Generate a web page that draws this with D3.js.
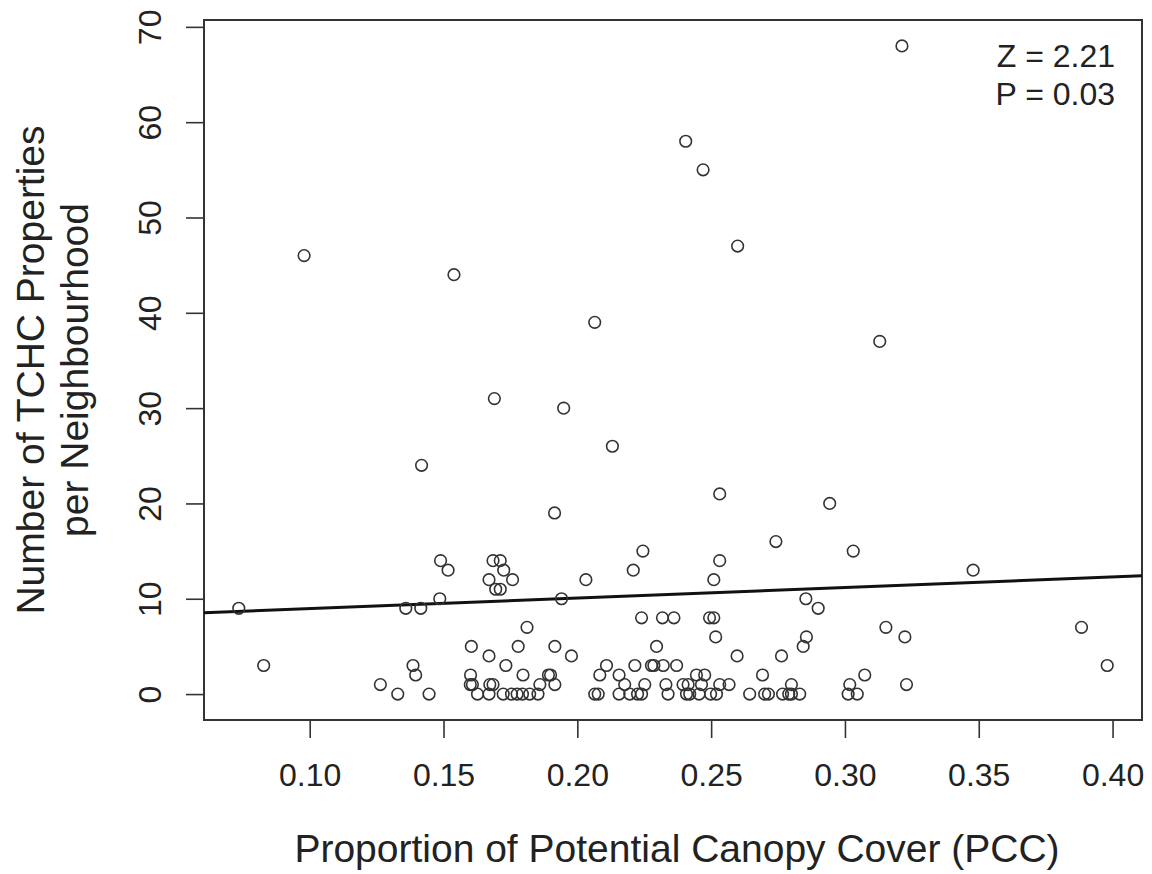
<!DOCTYPE html>
<html>
<head>
<meta charset="utf-8">
<script src="https://cdn.jsdelivr.net/npm/d3@7"></script>
<style>
  body { margin: 0; background: #fff; }
  svg text { font-family: "Liberation Sans", Arial, sans-serif; fill: #222; }
</style>
</head>
<body>
<div id="chart"></div>
<script>
// proportion of potential canopy cover, one entry per neighbourhood
const pcc = [
  0.3213, 0.2405, 0.2470, 0.2599, 0.0979, 0.1539, 0.2065, 0.3130, 0.1690, 0.1949,
  0.2131, 0.1418, 0.2532, 0.2943, 0.1915, 0.2742, 0.2245, 0.3031, 0.1489, 0.1685,
  0.1712, 0.2532, 0.2209, 0.3479, 0.1517, 0.1725, 0.1670, 0.1758, 0.2032, 0.2510,
  0.1695, 0.1712, 0.1486, 0.1941, 0.2854, 0.0735, 0.1359, 0.1415, 0.2900, 0.2240,
  0.2318, 0.2361, 0.2494, 0.2510, 0.1812, 0.3153, 0.3884, 0.2517, 0.2856, 0.3224,
  0.1604, 0.1779, 0.1916, 0.2296, 0.2844, 0.1670, 0.1978, 0.2597, 0.2763, 0.0828,
  0.1386, 0.1733, 0.2109, 0.2215, 0.2277, 0.2286, 0.2321, 0.2371, 0.3980, 0.1396,
  0.1601, 0.1797, 0.1892, 0.1900, 0.2084, 0.2156, 0.2445, 0.2476, 0.2692, 0.3074,
  0.1264, 0.1600, 0.1608, 0.1673, 0.1685, 0.1860, 0.1916, 0.2177, 0.2252, 0.2331,
  0.2395, 0.2414, 0.2464, 0.2532, 0.2567, 0.2800, 0.3018, 0.3230,
  0.1329, 0.1446, 0.1627, 0.1670, 0.1723, 0.1754, 0.1775, 0.1795, 0.1822, 0.1853,
  0.2065, 0.2078, 0.2156, 0.2196, 0.2225, 0.2240, 0.2339, 0.2408, 0.2420, 0.2455,
  0.2498, 0.2520, 0.2644, 0.2700, 0.2714, 0.2767, 0.2790, 0.2800, 0.2831, 0.3012,
  0.3046
];

// number of TCHC properties, same order as pcc
const tchc = [
  68, 58, 55, 47, 46, 44, 39, 37, 31, 30,
  26, 24, 21, 20, 19, 16, 15, 15, 14, 14,
  14, 14, 13, 13, 13, 13, 12, 12, 12, 12,
  11, 11, 10, 10, 10, 9, 9, 9, 9, 8,
  8, 8, 8, 8, 7, 7, 7, 6, 6, 6,
  5, 5, 5, 5, 5, 4, 4, 4, 4, 3,
  3, 3, 3, 3, 3, 3, 3, 3, 3, 2,
  2, 2, 2, 2, 2, 2, 2, 2, 2, 2,
  1, 1, 1, 1, 1, 1, 1, 1, 1, 1,
  1, 1, 1, 1, 1, 1, 1, 1,
  0, 0, 0, 0, 0, 0, 0, 0, 0, 0,
  0, 0, 0, 0, 0, 0, 0, 0, 0, 0,
  0, 0, 0, 0, 0, 0, 0, 0, 0, 0,
  0
];

const xTicks = [0.10, 0.15, 0.20, 0.25, 0.30, 0.35, 0.40];
const yTicks = [0, 10, 20, 30, 40, 50, 60, 70];

// fitted line: tchc = intercept + slope * pcc
const fitIntercept = 7.86;
const fitSlope = 11.05;

const stats = ["Z = 2.21", "P = 0.03"];

const width = 1152, height = 874;
const box = { left: 204, right: 1142, top: 20, bottom: 720 };

const svg = d3.select("#chart")
  .append("svg")
  .attr("width", width)
  .attr("height", height);

const x = d3.scaleLinear().domain([0.0605, 0.411]).range([box.left, box.right]);
const y = d3.scaleLinear().domain([-2.72, 70.72]).range([box.bottom, box.top]);

// axes
const xAxis = svg.append("g")
  .attr("transform", `translate(0,${box.bottom})`)
  .call(d3.axisBottom(x).tickValues(xTicks).tickSize(18).tickPadding(25).tickFormat(d3.format(".2f")));

const yAxis = svg.append("g")
  .attr("transform", `translate(${box.left},0)`)
  .call(d3.axisLeft(y).tickValues(yTicks).tickSize(18).tickFormat(d3.format("d")));

[xAxis, yAxis].forEach(g => {
  g.select(".domain").remove();
  g.selectAll(".tick line").attr("stroke", "#333").attr("stroke-width", 1.6);
  g.selectAll(".tick text").style("font-size", "32px").attr("fill", "#2a2a2a");
});

// R style rotated y tick labels
yAxis.selectAll(".tick text")
  .attr("x", null).attr("dy", null)
  .attr("text-anchor", "middle")
  .attr("transform", "translate(-43,0) rotate(-90)");

// plot box
svg.append("rect")
  .attr("x", box.left).attr("y", box.top)
  .attr("width", box.right - box.left).attr("height", box.bottom - box.top)
  .attr("fill", "none")
  .attr("stroke", "#333")
  .attr("stroke-width", 2);

// fitted line across the box
const [x0, x1] = x.domain();
svg.append("line")
  .attr("x1", x(x0)).attr("y1", y(fitIntercept + fitSlope * x0))
  .attr("x2", x(x1)).attr("y2", y(fitIntercept + fitSlope * x1))
  .attr("stroke", "#111")
  .attr("stroke-width", 3);

// points
svg.append("g")
  .selectAll("circle")
  .data(pcc.map((v, i) => [v, tchc[i]]))
  .enter()
  .append("circle")
  .attr("cx", d => x(d[0]))
  .attr("cy", d => y(d[1]))
  .attr("r", 5.8)
  .attr("fill", "none")
  .attr("stroke", "#333")
  .attr("stroke-width", 1.6);

// test statistics
svg.append("g")
  .selectAll("text")
  .data(stats)
  .enter()
  .append("text")
  .attr("x", 1115)
  .attr("y", (d, i) => 67 + i * 38)
  .attr("text-anchor", "end")
  .style("font-size", "32px")
  .text(d => d);

// axis titles
svg.append("text")
  .attr("x", (box.left + box.right) / 2 + 4)
  .attr("y", 862)
  .attr("text-anchor", "middle")
  .style("font-size", "39px")
  .text("Proportion of Potential Canopy Cover (PCC)");

svg.append("text")
  .attr("transform", `translate(44,${(box.top + box.bottom) / 2}) rotate(-90)`)
  .attr("text-anchor", "middle")
  .style("font-size", "39px")
  .text("Number of TCHC Properties");

svg.append("text")
  .attr("transform", `translate(88,${(box.top + box.bottom) / 2}) rotate(-90)`)
  .attr("text-anchor", "middle")
  .style("font-size", "39px")
  .text("per Neighbourhood");
</script>
</body>
</html>
